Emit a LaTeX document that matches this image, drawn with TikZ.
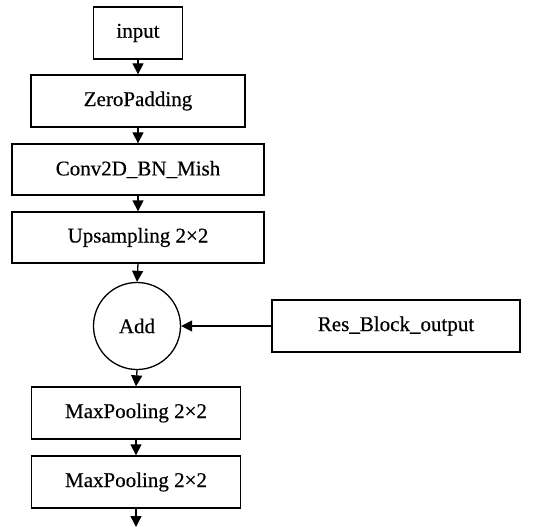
\documentclass[tikz,border=0pt]{standalone}
\usepackage{fontspec}
\setmainfont{Liberation Serif}[UprightFeatures={FakeBold=0.4}]
\usetikzlibrary{arrows.meta}
\tikzset{
  layer/.style={draw, line width=1.3pt, minimum height=52pt, inner sep=0pt,
                font=\fontsize{21}{24}\selectfont},
  addnode/.style={layer, circle, minimum size=87pt},
  flow/.style={line width=1.3pt, -{Triangle[length=11pt,width=11pt]}},
}
\begin{document}
\begin{tikzpicture}[x=1pt, y=1pt]
    \useasboundingbox (0,0) rectangle (534,-529);
    \node[layer, minimum width=89pt] (input) at (138, -33) {input};
    \node[layer, minimum width=214pt] (zpad) at (138, -101) {ZeroPadding};
    \node[layer, minimum width=252pt, minimum height=51pt] (conv) at (138, -169.5) {Conv2D\_BN\_Mish};
    \node[layer, minimum width=252pt, minimum height=51pt] (upsamp) at (138, -237.5) {Upsampling 2×2};
    \node[addnode] (add) at (137, -326) {Add};
    \node[layer, minimum width=248pt] (res) at (396, -326) {Res\_Block\_output};
    \node[layer, minimum width=209pt] (pool1) at (136, -413) {MaxPooling 2×2};
    \node[layer, minimum width=209pt] (pool2) at (136, -482) {MaxPooling 2×2};
    \coordinate (out) at (136, -527);
    \draw[flow] (input) -- (zpad);
    \draw[flow] (zpad) -- (conv);
    \draw[flow] (conv) -- (upsamp);
    \draw[flow] (upsamp.south) -- (add.north);
    \draw[flow] (res) -- (add);
    \draw[flow] (add.south) -- (pool1.north);
    \draw[flow] (pool1) -- (pool2);
    \draw[flow] (pool2) -- (out);
  \end{tikzpicture}
\end{document}
